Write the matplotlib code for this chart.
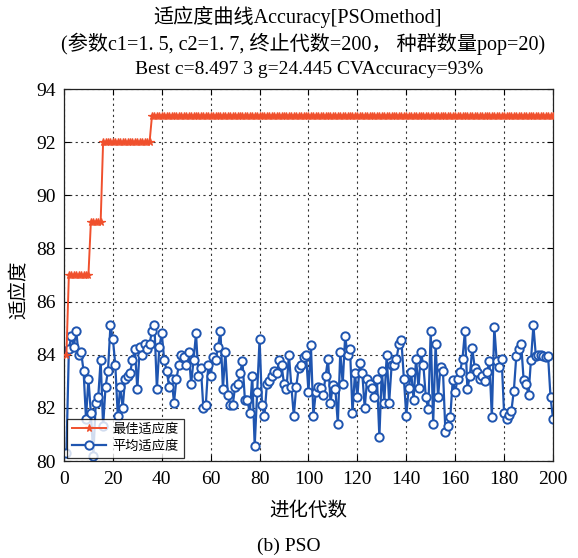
import matplotlib
matplotlib.use("Agg")
import matplotlib.pyplot as plt
import numpy as np

gens = list(range(1, 201))
best_fit = [84.0] + [87.0] * 9 + [89.0] * 5 + [92.0] * 20 + [93.0] * 165
avg_fit = [
    80.3, 84.2, 84.7, 84.3, 84.9, 84.0, 84.1, 83.4, 81.6, 83.1,
    81.8, 80.2, 82.2, 82.4, 83.8, 81.3, 82.8, 83.4, 85.1, 84.6,
    83.6, 81.7, 82.8, 82.0, 83.1, 83.2, 83.3, 83.8, 84.2, 82.7,
    84.3, 84.0, 84.4, 84.2, 84.4, 84.9, 85.1, 82.7, 84.3, 84.8,
    83.8, 83.4, 82.8, 83.1, 82.2, 83.1, 83.6, 84.0, 83.9, 83.6,
    84.1, 82.9, 83.8, 84.8, 83.2, 83.5, 82.0, 82.1, 83.6, 83.2,
    83.9, 83.8, 84.3, 84.9, 82.7, 84.1, 82.5, 82.1, 82.1, 82.8,
    82.9, 83.3, 83.75, 82.3, 82.3, 81.8, 83.2, 80.55, 82.6, 84.6,
    82.1, 81.7, 82.9, 83.0, 83.2, 83.4, 83.3, 83.8, 83.6, 82.9,
    82.7, 84.0, 82.8, 81.7, 82.8, 83.5, 83.6, 83.9, 84.0, 82.6,
    84.35, 81.7, 82.6, 82.8, 82.75, 82.5, 83.2, 83.85, 82.2, 82.85,
    82.7, 81.4, 84.1, 82.9, 84.7, 84.0, 84.2, 81.8, 83.3, 82.4,
    83.7, 83.3, 82.0, 83.1, 82.9, 82.75, 82.4, 83.1, 80.9, 83.4,
    82.2, 84.0, 82.2, 83.6, 83.6, 83.85, 84.4, 84.55, 83.1, 81.7,
    82.75, 83.35, 82.3, 83.85, 82.75, 84.1, 83.6, 82.4, 81.95, 84.9,
    81.4, 84.4, 82.4, 83.55, 83.4, 81.1, 81.3, 81.65, 83.05, 82.6,
    83.1, 83.35, 83.85, 84.9, 82.7, 83.2, 84.25, 83.5, 83.35, 83.1,
    83.2, 83.0, 83.35, 83.75, 81.65, 85.05, 83.75, 83.55, 83.85, 81.8,
    81.6, 81.75, 81.9, 82.65, 83.95, 84.2, 84.4, 83.05, 82.9, 82.5,
    83.8, 85.1, 83.95, 84.0, 84.0, 83.95, 83.9, 83.95, 82.4, 81.6,
]

title_lines = [
    "适应度曲线Accuracy[PSOmethod]",
    "(参数c1=1. 5, c2=1. 7, 终止代数=200， 种群数量pop=20)",
    "Best c=8.497 3 g=24.445 CVAccuracy=93%",
]
xlabel = "进化代数"
ylabel = "适应度"
caption = "(b) PSO"
legend_labels = ["最佳适应度", "平均适应度"]
xticks = list(range(0, 201, 20))
yticks = list(range(80, 95, 2))

FAM = ["Liberation Serif", "Noto Sans CJK SC"]
plt.rcParams["font.family"] = FAM

fig = plt.figure(figsize=(5.78, 5.58), dpi=100)
ax = fig.add_axes([0.1107, 0.1738, 0.846, 0.6667])

red = "#f0502d"
blue = "#1f55b0"
ax.plot(gens, best_fit, color=red, lw=1.4, marker="*", ms=5.5, mew=0.9,
        label=legend_labels[0], zorder=3)
ax.plot(gens, avg_fit, color=blue, lw=1.6, marker="o", ms=6, mfc="white",
        mec=blue, mew=1.4, label=legend_labels[1], zorder=2)

ax.set_xlim(0, 200)
ax.set_ylim(80, 94)
ax.set_xticks(xticks)
ax.set_yticks(yticks)
ax.tick_params(direction="in", top=True, right=True, labelsize=14, length=4)
ax.tick_params(axis="x", pad=7)
ax.tick_params(axis="y", pad=6)
ax.grid(True, color="#333333", linestyle=(0, (2, 3)), lw=0.8)
for s in ax.spines.values():
    s.set_color("#222222")
    s.set_linewidth(0.9)

ax.set_ylabel(ylabel, fontsize=14, labelpad=4)
ax.yaxis.set_label_coords(-0.072, 0.46)

leg = ax.legend(loc="lower left", fontsize=9.5, frameon=True, fancybox=False,
                edgecolor="black", borderpad=0.35, handlelength=2.6,
                labelspacing=0.35, borderaxespad=0.25, handletextpad=0.5)
leg.get_frame().set_linewidth(0.9)

fig.text(0.515, 1 - 17 / 558, title_lines[0], ha="center", va="center", fontsize=14.5)
fig.text(0.525, 1 - 44 / 558, title_lines[1], ha="center", va="center", fontsize=14.5)
fig.text(0.535, 1 - 70 / 558, title_lines[2], ha="center", va="center", fontsize=14)
fig.text(0.534, 1 - 511 / 558, xlabel, ha="center", va="center", fontsize=14)
fig.text(0.5, 1 - 546 / 558, caption, ha="center", va="center", fontsize=14)

fig.savefig("out.png", dpi=100)
